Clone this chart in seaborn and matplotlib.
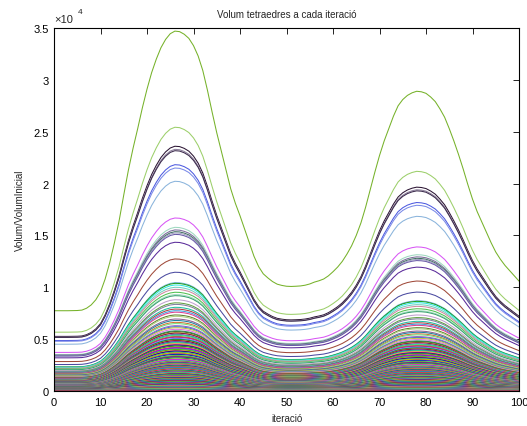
import colorsys
import numpy as np
import pandas as pd
import matplotlib
matplotlib.use("Agg")
import matplotlib.pyplot as plt
import seaborn as sns
from matplotlib.ticker import FuncFormatter, MultipleLocator

# Iterations of the run
iteracions = list(range(0, 101))

# Volume profile of the largest tetrahedron (Volum/VolumInicial)
perfil = [7740, 7740, 7740, 7740, 7750, 7760, 7800, 7980, 8300, 8800,
          9550, 10800, 12400, 14300, 16400, 18900, 21300, 23400, 25300, 27300,
          29100, 30700, 32000, 33100, 33900, 34450, 34700, 34650, 34400, 34000,
          33300, 32300, 30900, 29000, 26900, 24900, 23100, 21300, 19500, 18100,
          16900, 15600, 14300, 13000, 12000, 11300, 10900, 10550, 10300, 10180,
          10100, 10080, 10100, 10130, 10200, 10320, 10500, 10630, 10800, 11100,
          11500, 11950, 12500, 13200, 14000, 15000, 16200, 17700, 19400, 21100,
          22700, 24100, 25300, 26500, 27500, 28100, 28500, 28750, 28900, 28850,
          28700, 28350, 27900, 27200, 26400, 25300, 24100, 22800, 21400, 19900,
          18500, 17300, 16300, 15300, 14300, 13400, 12700, 12100, 11600, 11100,
          10600]

# Peak volume of every tetrahedron
pics_grans = [34700, 25430, 23600, 23300, 23170, 21820, 21500, 20220, 16680,
              15780, 15530, 15360, 15240, 15100, 14340, 12730, 11450, 10450,
              10380, 10220, 10000, 9800, 9520, 9300, 9190, 8800, 8500, 8350,
              8070, 7900, 7740, 7600, 7330, 7200, 6940, 6800, 6620, 6500, 6300,
              6200, 6100, 5950, 5800]
pics_petits = [5730, 5610, 5580, 5470, 5400, 5390, 5260, 5210, 5190, 5070,
               4990, 4960, 4880, 4850, 4760, 4740, 4650, 4580, 4570, 4460,
               4410, 4330, 4310, 4240, 4170, 4160, 4050, 4010, 3990, 3900,
               3860, 3840, 3750, 3690, 3670, 3580, 3550, 3520, 3430, 3410,
               3330, 3290, 3270, 3180, 3170, 3090, 3040, 3030, 2950, 2910,
               2890, 2820, 2810, 2740, 2680, 2670, 2590, 2570, 2510, 2470,
               2460, 2380, 2340, 2330, 2260, 2250, 2180, 2140, 2130, 2060,
               2020, 2010, 1940, 1920, 1870, 1830, 1820, 1760, 1720, 1700,
               1650, 1620, 1610, 1550, 1510, 1490, 1440, 1420, 1380, 1350,
               1340, 1290, 1250, 1230, 1200, 1160, 1150, 1110, 1080, 1070,
               1020, 990, 980, 930, 910, 870, 860, 810, 800, 750, 720, 710,
               660, 650, 600, 590, 540, 520, 480, 470, 420, 410, 360, 340,
               320, 270, 260, 210, 200, 160, 140, 110, 90, 70, 40, 20]

# Line colours: hand-picked for the large tetrahedra, then an even,
# non-repeating spread of vivid hues for the rest
colors_grans = ['#76b22a', '#9ccf6a', '#2b1433', '#8d7f9c', '#3b2a4c',
                '#4d5ae0', '#7a8ae8', '#8ab4dc', '#d856f5', '#9fd8c0',
                '#7c6c9c', '#407060', '#a0a0c0', '#6a5aa8', '#5a2a9a',
                '#a04a3a', '#4a4aa0', '#7ab0e0', '#20a020', '#30e8e0',
                '#70d0c0', '#d08aa0', '#50c050', '#a0e0c0', '#3aa070',
                '#c0a0d0', '#60a040', '#8080a0', '#20c0a0', '#b04040',
                '#40a0e0', '#e04090', '#608030', '#b0d080', '#906090',
                '#2080a0', '#d07030', '#70e080', '#a060c0', '#4070d0',
                '#c0c040', '#e070e0', '#309060']
passos = (0.8191725, 0.6710436, 0.5497005)
colors_petits = []
for i in range(len(pics_petits)):
    h, s, v = ((0.5 + (i + 1) * a) % 1.0 for a in passos)
    colors_petits.append(colorsys.hsv_to_rgb(h, 0.45 + 0.55 * s,
                                             0.45 + 0.55 * v))

pic_max = max(perfil)


def taula(pics, prefix):
    noms = [f"{prefix}{i:03d}" for i in range(len(pics))]
    files = []
    for nom, pic in zip(noms, pics):
        for it, v in zip(iteracions, perfil):
            files.append((nom, it, v * pic / pic_max))
    df = pd.DataFrame(files, columns=["tetraedre", "iteracio", "volum"])
    return df, noms


df_grans, noms_grans = taula(pics_grans, "g")
df_petits, noms_petits = taula(pics_petits, "p")

sns.set_style("white")
plt.rcParams["font.family"] = ["Liberation Sans", "DejaVu Sans"]

fig = plt.figure(figsize=(5.27, 4.27), dpi=100)
ax = fig.add_axes([54 / 527, 35 / 427, 465 / 527, 363 / 427])

sns.lineplot(data=df_grans, x="iteracio", y="volum", hue="tetraedre",
             hue_order=noms_grans, palette=colors_grans, estimator=None,
             errorbar=None, sort=False, legend=False, linewidth=0.75, ax=ax)
sns.lineplot(data=df_petits, x="iteracio", y="volum", hue="tetraedre",
             hue_order=noms_petits, palette=colors_petits, estimator=None,
             errorbar=None, sort=False, legend=False, linewidth=0.8, ax=ax)

ax.set_xlim(0, 100)
ax.set_ylim(0, 35000)
ax.xaxis.set_major_locator(MultipleLocator(10))
ax.yaxis.set_major_locator(MultipleLocator(5000))
ax.yaxis.set_major_formatter(FuncFormatter(lambda v, p: f"{v / 1e4:g}"))
ax.tick_params(direction="in", length=4, width=0.6, top=True, right=True,
               labelsize=8, colors="black", pad=4)
for s in ax.spines.values():
    s.set_visible(True)
    s.set_color("black")
    s.set_linewidth(0.8)

ax.set_title("Volum tetraedres a cada iteració", fontsize=7, pad=8)
ax.set_xlabel("iteració", fontsize=7, labelpad=5)
ax.set_ylabel("Volum/VolumInicial", fontsize=7, labelpad=6)

ax.text(0.0, 1.012, "×10", transform=ax.transAxes, fontsize=8,
        ha="left", va="bottom")
ax.text(0.052, 1.035, "4", transform=ax.transAxes, fontsize=6,
        ha="left", va="bottom")

fig.savefig("out.png", dpi=100)
